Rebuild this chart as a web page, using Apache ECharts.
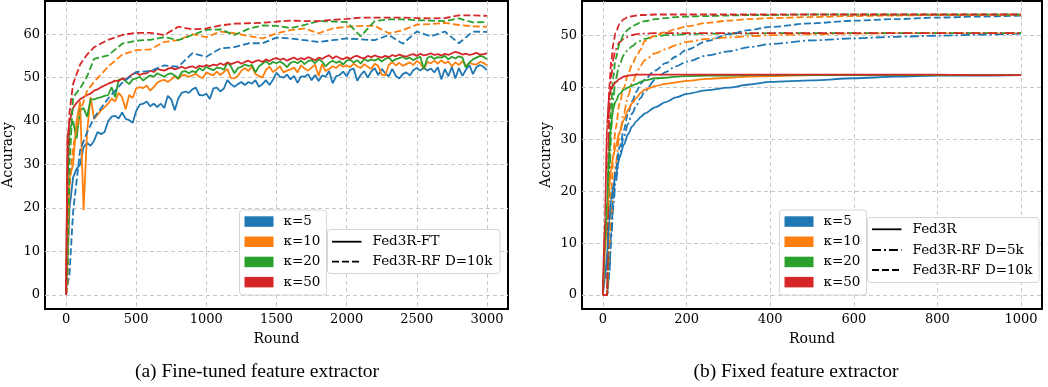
<!DOCTYPE html>
<html><head><meta charset="utf-8">
<script src="https://cdn.jsdelivr.net/npm/echarts@6/dist/echarts.min.js"></script>
<style>html,body{margin:0;padding:0;background:#fff}#c{width:1048px;height:387px}</style>
</head><body><div id="c"></div>
<script>
// ---------- (a) Fine-tuned feature extractor ----------
const FT_ROUNDS = [
 0,10,25,50,75,100,125,150,175,200,225,250,275,300,325,350,375,400,425,450,475,
 500,525,550,575,600,625,650,675,700,725,750,775,800,825,850,875,900,925,950,975,
 1000,1025,1050,1075,1100,1125,1150,1175,1200,1225,1250,1275,1300,1325,1350,1375,1400,1425,1450,1475,
 1500,1525,1550,1575,1600,1625,1650,1675,1700,1725,1750,1775,1800,1825,1850,1875,1900,1925,1950,1975,
 2000,2025,2050,2075,2100,2125,2150,2175,2200,2225,2250,2275,2300,2325,2350,2375,2400,2425,2450,2475,
 2500,2525,2550,2575,2600,2625,2650,2675,2700,2725,2750,2775,2800,2825,2850,2875,2900,2925,2950,2975,
 3000];
const FT_K5 = [
 0,8,20,27,29,30,34,35,34.3,35.5,37.5,37,37.5,40,41,41.2,40.6,42,40.5,40.2,39.6,
 42.3,43.8,44,44.5,43.4,44,43.2,44,43,45.8,45,42.5,45.2,46.5,46.8,46.5,47.3,47.7,46,45.9,
 46.3,45.1,47.5,47.7,46.8,47.5,49.4,48.5,47.9,48.5,49.0,48.3,49.0,48.6,49.4,47.9,48.5,49.4,48.3,49.5,
 51.1,50.2,50.0,50.7,49.6,50.4,48.8,50.3,50.2,50.8,49.4,50.6,49.2,50.5,50.2,51.5,48.7,50.3,50.6,51.4,
 50.3,51.8,52.1,49.3,50.6,51.5,50.0,51.4,52.2,50.6,52.0,51.0,50.3,52.0,50.4,49.8,50.8,51.2,50.5,51.7,
 52.2,51.6,52.3,51.6,52.1,51.2,52.4,49.6,52.0,50.3,52.5,49.8,52.2,50.4,51.8,52.9,50.8,52.4,52.9,52.5,
 51.7];
const FT_K10 = [
 0,12,27,30,40,44.5,19.5,37.5,45.5,40.5,41.5,42.5,43.2,44,45.2,44.5,46.5,45.5,42.7,46,45.3,
 47.5,47.8,47.6,48.2,47,47.8,48.8,49.3,49.5,49.0,49.6,50.3,49.7,50.5,50.6,50.2,50.5,50.9,50.2,49.9,
 51.2,50.8,50.5,51.4,50.6,51.3,52.0,49.9,49.8,50.4,51.6,52.2,51.5,52.6,50.8,50.4,50.0,51.8,52.5,51.3,
 51.9,52.6,51.2,51.6,51.9,52.3,51.2,52.8,52.1,51.6,52.3,53.0,50.4,53.1,51.5,52.0,52.6,52.2,53.0,52.5,
 52.8,52.4,53.2,52.6,52.2,53.1,52.5,52.0,53.2,52.7,50.7,50.5,52.9,53.6,52.8,53.4,52.7,53.1,53.5,52.9,
 53.8,53.3,52.0,53.6,53.3,53.9,53.2,54.0,53.3,53.7,52.6,53.5,52.9,53.8,52.7,53.4,53.1,53.0,53.6,53.4,
 52.8];
const FT_K20 = [
 0,25,38,40,36,42.5,43,41,45,45,45.3,45.5,45.8,46,47.8,45.5,49.5,49.8,49.2,48.5,49.6,
 49.8,50.2,49.3,50.0,50.5,50.2,51.0,50.6,50.2,50.8,51.0,50.5,49.8,51.3,51.5,51.0,51.5,51.2,52.2,51.6,
 52.5,52.0,51.7,52.3,52.2,51.8,53.5,52.6,51.0,52.2,52.5,53.0,52.7,52.9,51.2,52.6,53.2,53.8,53.0,53.6,
 53.3,53.7,53.2,52.4,53.4,53.7,53.3,53.9,53.1,53.8,54.0,53.3,54.2,53.7,52.6,53.4,53.9,53.4,53.8,53.0,
 53.9,54.1,53.5,54.0,53.2,54.3,53.8,54.2,53.9,54.4,53.7,54.3,54.6,53.8,54.2,54.5,54.8,54.3,54.6,54.0,
 54.5,54.8,52.0,54.5,54.9,54.3,54.7,54.6,55.0,54.2,54.8,54.4,54.9,54.6,52.3,53.5,54.2,54.6,55.0,54.8,
 54.2];
const FT_K50 = [
 0,36,40,43,44.2,45,45.5,46,46.3,47,47.3,47.8,48.2,48.6,48.9,49.3,49.2,49.8,49.6,50.2,50.8,
 51.2,50.6,50.9,51.0,51.6,51.3,52.0,51.8,51.6,52.0,52.3,51.9,52.2,52.5,52.1,52.4,52.6,52.2,52.7,52.5,
 52.9,52.6,53.0,52.8,53.3,52.9,53.5,53.1,53.4,53.7,53.2,53.6,53.9,53.4,53.8,54.0,53.6,54.2,53.8,54.3,
 54.5,54.1,54.4,53.9,54.3,54.6,54.1,54.5,54.2,54.7,54.4,54.0,54.6,54.3,54.8,55.1,54.4,54.9,54.5,54.2,
 54.7,54.3,54.8,55.0,54.6,54.4,55.0,54.7,55.1,54.8,54.6,55.0,54.7,55.2,54.9,55.3,55.0,54.8,55.2,55.4,
 55.0,55.5,55.1,55.3,55.6,55.2,55.4,55.1,55.5,55.2,55.6,55.9,55.7,55.3,55.5,55.2,55.4,55.7,55.3,55.4,
 55.6];
const RF_ROUNDS = [0,10,25,50,100,150,200,300,400,500,600,700,800,900,1000,1100,1200,1300,1400,1500,
 1600,1700,1800,1900,2000,2100,2200,2300,2400,2500,2600,2700,2800,2900,3000];
const RF_K5 = [0,0,5,19,33.3,37.4,40.8,45.2,48.8,51.3,51.5,52.8,52.5,55.6,54.8,56.7,57.0,57.9,57.9,59.2,
 59.0,58.6,58.2,58.6,59.0,58.8,58.6,59.8,57.8,60.6,59.5,60.6,57.9,60.6,60.5];
const RF_K10 = [0,2,25,34,42,47,49,52.5,55.3,56.3,56.5,58.2,58.6,60.0,59.3,60.6,60.2,59.6,59.0,60.2,
 60.9,61.3,60.2,61.3,61.7,61.9,61.9,60.2,60.9,62.2,62.3,62.6,62.1,61.8,61.7];
const RF_K20 = [0,5,30,45.5,47.5,50.3,54.3,55.1,57.8,58.5,58.7,59.3,58.6,59.8,61.0,61.1,59.8,61.2,62.0,61.9,
 61.4,62.1,63.0,62.9,62.8,59.5,63.0,63.4,63.4,63.2,63.1,63.0,63.6,62.7,62.8];
const RF_K50 = [0,30,42,48.5,53.0,55.3,57.0,58.7,59.8,60.3,60.3,59.8,61.7,61.1,61.3,62.0,62.4,62.5,62.6,62.9,
 63.1,63.0,63.0,63.3,63.5,63.8,63.8,63.8,63.8,63.7,63.6,63.7,64.3,64.3,64.2];

// ---------- (b) Fixed feature extractor ----------
const FX_ROUNDS = [0,5,10,15,20,25,30,40,50,60,70,80,90,100,125,150,175,200,250,300,350,400,500,600,700,800,900,1000];
const FX_K5 = [0,3,8,14,18.5,21,23,26.5,29,31,32.5,33.5,34.3,35,36.2,37.2,38.1,38.8,39.5,40.0,40.6,41.1,41.4,41.8,42.1,42.3,42.3,42.4];
const FX_K10 = [0,8,16,21,24.5,26.8,28.5,31.5,33.8,35.7,37,38,39,39.6,40.3,40.7,41.0,41.3,41.7,41.9,42.1,42.2,42.4,42.4,42.4,42.4,42.4,42.4];
const FX_K20 = [0,10,18,28,33.5,36,37.3,38.8,39.6,40.0,40.4,40.7,41.1,41.4,41.8,41.9,42.1,42.2,42.3,42.3,42.4,42.4,42.4,42.4,42.4,42.4,42.4,42.4];
const FX_K50 = [0,15,33,38.5,39.8,40.5,41.0,41.7,42.1,42.3,42.4,42.5,42.5,42.5,42.5,42.5,42.5,42.5,42.5,42.5,42.5,42.5,42.5,42.5,42.5,42.5,42.4,42.4];
const RF5K_K5 = [0,0,0,4,11,17,21.5,27,30.5,33,35,36.6,38,39.3,41.5,43,44.1,45,46.2,47.0,47.8,48.4,49.1,49.5,49.8,50.0,50.2,50.4];
const RF5K_K10 = [0,0,0,8,15,20.5,25,31,35,38.3,40.8,42.6,44.2,45.3,46.6,47.4,48.2,48.8,49.4,49.7,49.9,50.1,50.3,50.4,50.5,50.5,50.5,50.5];
const RF5K_K20 = [0,0,0,20,32,38,41.5,44.5,46.3,47.3,48.0,48.6,49.0,49.4,49.9,50.1,50.2,50.3,50.4,50.4,50.4,50.5,50.5,50.5,50.5,50.5,50.5,50.5];
const RF5K_K50 = [0,0,0,35,42,45.5,47.3,48.8,49.4,49.8,50.1,50.3,50.4,50.4,50.5,50.5,50.5,50.5,50.5,50.5,50.5,50.5,50.5,50.5,50.5,50.5,50.5,50.5];
const RF10K_K5 = [0,0,0,4,12,19,24,28.5,31.8,35,37.4,39.2,40.7,41.6,43.3,44.7,46.0,47.3,49.0,50.3,51.1,51.7,52.4,52.9,53.2,53.5,53.7,53.9];
const RF10K_K10 = [0,0,0,12,20,27,32,37,40,42.5,44.5,46,47.3,49.0,50.0,50.7,51.3,51.8,52.5,52.9,53.2,53.4,53.6,53.8,53.9,54.0,54.0,54.1];
const RF10K_K20 = [0,0,0,25,37,42,45.5,48.5,50.3,51.2,51.8,52.2,52.6,52.8,53.2,53.4,53.6,53.7,53.8,53.9,54.0,54.0,54.1,54.1,54.1,54.1,54.1,54.1];
const RF10K_K50 = [0,0,0,40,45,48.5,50.5,52.3,53.2,53.6,53.8,53.9,54.0,54.0,54.1,54.1,54.1,54.1,54.1,54.1,54.1,54.1,54.1,54.1,54.1,54.1,54.1,54.1];

// ---------- labels ----------
const KAPPA_LABELS = ['κ=5','κ=10','κ=20','κ=50'];
const LEGEND_A = ['Fed3R-FT','Fed3R-RF D=10k'];
const LEGEND_B = ['Fed3R','Fed3R-RF D=5k','Fed3R-RF D=10k'];
const X_TICKS_A = [0,500,1000,1500,2000,2500,3000];
const Y_TICKS_A = [0,10,20,30,40,50,60];
const X_TICKS_B = [0,200,400,600,800,1000];
const Y_TICKS_B = [0,10,20,30,40,50];
const CAPTIONS = ['(a) Fine-tuned feature extractor','(b) Fixed feature extractor'];

const COLORS = ['#1f77b4','#ff7f0e','#2ca02c','#d62728'];
const DASH = [7,3];
const DASHDOT = [9,3,2,3];
const SERIF = 'DejaVu Serif';

function pairs(xs, ys){ const n=Math.min(xs.length,ys.length); const o=[]; for(let i=0;i<n;i++) o.push([xs[i],ys[i]]); return o; }
function line(xs, ys, color, type, gi, smooth){
  return {type:'line', xAxisIndex:gi, yAxisIndex:gi, data:pairs(xs,ys), showSymbol:false, symbol:'none',
    smooth: smooth?0.3:false, smoothMonotone:'x', silent:true, animation:false,
    lineStyle:{color:color, width:1.8, type:type}};
}
const series = [];
[FT_K5,FT_K10,FT_K20,FT_K50].forEach((a,i)=>series.push(line(FT_ROUNDS,a,COLORS[i],'solid',0,false)));
[RF_K5,RF_K10,RF_K20,RF_K50].forEach((a,i)=>series.push(line(RF_ROUNDS,a,COLORS[i],DASH,0,false)));
[RF5K_K5,RF5K_K10,RF5K_K20,RF5K_K50].forEach((a,i)=>series.push(line(FX_ROUNDS,a,COLORS[i],DASHDOT,1,true)));
[RF10K_K5,RF10K_K10,RF10K_K20,RF10K_K50].forEach((a,i)=>series.push(line(FX_ROUNDS,a,COLORS[i],DASH,1,true)));
[FX_K5,FX_K10,FX_K20,FX_K50].forEach((a,i)=>series.push(line(FX_ROUNDS,a,COLORS[i],'solid',1,true)));

const gridLine = {show:true, lineStyle:{color:'#c8c8c8', width:1, type:[4,3]}};
const fmt = v => String(v);
function xAxis(gi,min,max,ticks){
  return {type:'value', gridIndex:gi, min:min, max:max, name:'Round', nameLocation:'middle', nameGap:23,
    nameTextStyle:{fontFamily:SERIF, fontSize:14, color:'#000'},
    axisLine:{show:false}, axisTick:{show:false, customValues:ticks},
    axisLabel:{customValues:ticks, formatter:fmt, fontFamily:SERIF, fontSize:13, color:'#000', margin:4},
    splitLine:gridLine};
}
function yAxis(gi,min,max,ticks,gap){
  return {type:'value', gridIndex:gi, min:min, max:max, name:'Accuracy', nameLocation:'middle', nameGap:gap,
    nameTextStyle:{fontFamily:SERIF, fontSize:14, color:'#000'},
    axisLine:{show:false}, axisTick:{show:false, customValues:ticks},
    axisLabel:{customValues:ticks, formatter:fmt, fontFamily:SERIF, fontSize:13, color:'#000', margin:5},
    splitLine:gridLine};
}

// legends drawn as graphic elements
const graphic = [];
function colorLegend(x,y){
  graphic.push({type:'rect', shape:{x:x,y:y,width:87,height:85,r:3}, style:{fill:'#fff',stroke:'#d6d6d6',lineWidth:1}, z:100});
  KAPPA_LABELS.forEach((t,i)=>{
    const cy = y+11.5+i*20.2;
    graphic.push({type:'rect', shape:{x:x+5,y:cy-5.2,width:29,height:10.5}, style:{fill:COLORS[i]}, z:101});
    graphic.push({type:'text', x:x+44, y:cy, style:{text:t, fill:'#000', font:'13.5px "DejaVu Serif"', textVerticalAlign:'middle'}, z:101});
  });
}
function styleLegend(x,y,w,h,labels,types,rows){
  graphic.push({type:'rect', shape:{x:x,y:y,width:w,height:h,r:3}, style:{fill:'#fff',stroke:'#d6d6d6',lineWidth:1}, z:100});
  labels.forEach((t,i)=>{
    const cy = rows[i];
    graphic.push({type:'line', shape:{x1:x+4.5,y1:cy,x2:x+34,y2:cy}, style:{stroke:'#000',lineWidth:1.8,lineDash:types[i]}, z:101});
    graphic.push({type:'text', x:x+45, y:cy, style:{text:t, fill:'#000', font:'13.5px "DejaVu Serif"', textVerticalAlign:'middle'}, z:101});
  });
}
colorLegend(239.5,210);
styleLegend(327.5,229.5,172.5,44,LEGEND_A,[null,DASH],[241.7,261.7]);
colorLegend(779.5,210);
styleLegend(867.5,217.5,171.5,65,LEGEND_B,[null,DASHDOT,DASH],[229.3,250,270]);
graphic.push({type:'text', x:257, y:372, style:{text:CAPTIONS[0], fill:'#000', font:'19.5px "Liberation Serif"', textAlign:'center', textVerticalAlign:'middle'}});
graphic.push({type:'text', x:796, y:372, style:{text:CAPTIONS[1], fill:'#000', font:'19.5px "Liberation Serif"', textAlign:'center', textVerticalAlign:'middle'}});

const chart = echarts.init(document.getElementById('c'), null, {renderer:'canvas'});
chart.setOption({
  animation:false,
  backgroundColor:'#fff',
  grid:[
    {left:43, top:1, width:465, height:308, show:true, borderColor:'#000', borderWidth:2, backgroundColor:'transparent'},
    {left:582, top:1, width:460, height:308, show:true, borderColor:'#000', borderWidth:2, backgroundColor:'transparent'}
  ],
  xAxis:[xAxis(0,-150,3150,X_TICKS_A), xAxis(1,-50,1050,X_TICKS_B)],
  yAxis:[yAxis(0,-3.22,67.62,Y_TICKS_A,30), yAxis(1,-2.7,56.7,Y_TICKS_B,29)],
  series:series,
  graphic:graphic
});
</script></body></html>
